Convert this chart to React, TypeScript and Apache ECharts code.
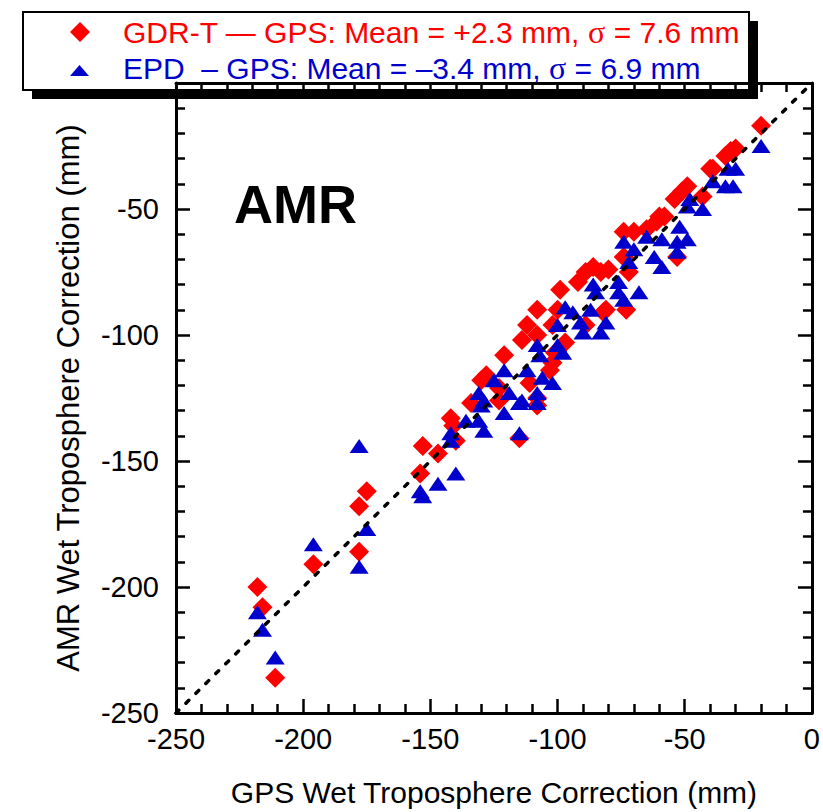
import React, { useEffect, useRef } from "react";
import * as echarts from "echarts";

const FONT = "'Liberation Sans', Arial, Helvetica, sans-serif";
const SERIF = "'Liberation Serif', 'DejaVu Serif', serif";
const RED = "#ff0000";
const BLUE = "#0000cc";

// axis range (mm)
const AXIS_MIN = -250;
const AXIS_MAX = 0;
const AXIS_STEP = 50;

const xAxisTitle = "GPS Wet Troposphere Correction (mm)";
const yAxisTitle = "AMR Wet Troposphere Correction (mm)";
const panelLabel = "AMR";

const legendGdr = { name: "GDR-T — GPS: Mean = +2.3 mm, ", sigma: "σ", rest: " = 7.6 mm" };
const legendEpd = { name: "EPD  – GPS: Mean = –3.4 mm, ", sigma: "σ", rest: " = 6.9 mm" };

// GDR-T vs GPS (red diamonds): [GPS, AMR]
const gdrT: [number, number][] = [
  [-218, -200], [-216, -208], [-211, -236], [-196, -191], [-178, -168], [-175, -162],
  [-178, -186], [-153, -144], [-154, -155], [-147, -147], [-142, -133], [-141, -136],
  [-140, -142], [-134, -127], [-123, -126], [-115, -141], [-108, -128], [-111, -119],
  [-20, -17], [-30, -26], [-32, -27], [-34, -29], [-39, -34], [-40, -34], [-49, -41],
  [-51, -43], [-54, -46], [-43, -45], [-60, -53], [-61, -55], [-58, -53], [-74, -59],
  [-70, -59], [-65, -58], [-74, -69], [-72, -75], [-53, -69], [-73, -90], [-86, -73],
  [-92, -79], [-89, -75], [-83, -75], [-80, -74], [-99, -82], [-100, -90], [-108, -90],
  [-112, -96], [-114, -102], [-108, -100], [-102, -96], [-97, -103], [-82, -91],
  [-81, -90], [-89, -96], [-121, -108], [-102, -111], [-103, -114], [-128, -116],
  [-123, -121], [-108, -125], [-130, -118], [-101, -107],
];

// EPD vs GPS (blue triangles): [GPS, AMR]
const epd: [number, number][] = [
  [-218, -210], [-216, -217], [-211, -228], [-196, -183], [-178, -144], [-175, -177],
  [-178, -192], [-154, -162], [-153, -164], [-147, -159], [-140, -155], [-142, -139],
  [-142, -142], [-136, -134], [-131, -134], [-130, -128], [-129, -138], [-129, -126],
  [-121, -131], [-115, -127], [-115, -139], [-108, -127],
  [-20, -25], [-30, -34], [-33, -34], [-31, -41], [-34, -41], [-39, -39], [-48, -46],
  [-49, -49], [-43, -50], [-52, -57], [-49, -62], [-53, -63], [-53, -67], [-59, -62],
  [-59, -73], [-62, -69], [-65, -61], [-74, -63], [-70, -66], [-72, -71], [-76, -79],
  [-76, -83], [-74, -86], [-68, -83], [-86, -80], [-85, -83], [-87, -90], [-97, -89],
  [-94, -91], [-91, -95], [-81, -95], [-83, -99], [-90, -99], [-100, -96], [-100, -104],
  [-108, -104], [-107, -108], [-98, -107], [-112, -114], [-106, -117], [-102, -119],
  [-121, -114], [-125, -118], [-119, -123], [-131, -123], [-108, -123], [-114, -126],
];

// 1:1 reference line
const identityLine: [number, number][] = [[-250, -250], [0, 0]];

const axisCommon = {
  type: "value" as const,
  min: AXIS_MIN,
  max: AXIS_MAX,
  interval: AXIS_STEP,
  splitLine: { show: false },
  axisLine: { show: true, onZero: false, lineStyle: { color: "#000", width: 3 } },
  axisTick: { show: true, inside: true, length: 14, lineStyle: { color: "#000", width: 2.5 } },
  minorTick: { show: true, splitNumber: 5, length: 9, lineStyle: { color: "#000", width: 2.5 } },
};

const labelStyle = { color: "#000", fontFamily: FONT, fontSize: 29 };

export default function App() {
  const ref = useRef<HTMLDivElement>(null);
  useEffect(() => {
    document.body.style.margin = "0";
    const chart = echarts.init(ref.current!, null, { renderer: "svg" });
    const richLegend = (color: string) => ({
      a: { fill: color, fontFamily: FONT, fontSize: 30 },
      s: { fill: color, fontFamily: SERIF, fontSize: 32 },
    });
    chart.setOption({
      animation: false,
      backgroundColor: "#fff",
      grid: { left: 176, right: 11, top: 83, bottom: 97, containLabel: false },
      xAxis: [
        {
          ...axisCommon,
          position: "bottom",
          name: xAxisTitle,
          nameLocation: "middle",
          nameGap: 64,
          nameTextStyle: { color: "#000", fontFamily: FONT, fontSize: 30 },
          axisLabel: { ...labelStyle, margin: 11 },
        },
        { ...axisCommon, position: "top", axisLabel: { show: false } },
      ],
      yAxis: [
        {
          ...axisCommon,
          position: "left",
          name: yAxisTitle,
          nameLocation: "middle",
          nameGap: 92,
          nameRotate: 90,
          nameTextStyle: { color: "#000", fontFamily: FONT, fontSize: 31 },
          axisLabel: { ...labelStyle, margin: 17, showMaxLabel: false },
        },
        { ...axisCommon, position: "right", axisLabel: { show: false } },
      ],
      series: [
        {
          name: "GDR-T - GPS",
          type: "scatter",
          xAxisIndex: 0,
          yAxisIndex: 0,
          data: gdrT,
          symbol: "diamond",
          symbolSize: [20, 20],
          itemStyle: { color: RED, opacity: 1 },
          z: 2,
        },
        {
          name: "EPD - GPS",
          type: "scatter",
          xAxisIndex: 0,
          yAxisIndex: 0,
          data: epd,
          symbol: "triangle",
          symbolSize: [19, 14],
          itemStyle: { color: BLUE, opacity: 1 },
          z: 3,
        },
        {
          name: "1:1",
          type: "line",
          xAxisIndex: 0,
          yAxisIndex: 0,
          data: identityLine,
          symbol: "none",
          lineStyle: { color: "#000", width: 3.5, type: [4, 10], cap: "round" },
          z: 4,
        },
      ],
      graphic: [
        {
          type: "group",
          z: 100,
          children: [
            { type: "rect", shape: { x: 32, y: 21, width: 726, height: 78 }, style: { fill: "#000" } },
            {
              type: "rect",
              shape: { x: 23, y: 12, width: 726, height: 78 },
              style: { fill: "#fff", stroke: "#000", lineWidth: 2 },
            },
            {
              type: "polygon",
              shape: { points: [[80, 22], [90, 32], [80, 42], [70, 32]] },
              style: { fill: RED },
            },
            {
              type: "polygon",
              shape: { points: [[70, 76], [89, 76], [79.5, 65]] },
              style: { fill: BLUE },
            },
            {
              type: "text",
              x: 123,
              y: 32,
              style: {
                text: `{a|${legendGdr.name}}{s|${legendGdr.sigma}}{a|${legendGdr.rest}}`,
                rich: richLegend(RED),
                fill: RED,
                fontFamily: FONT,
                fontSize: 30,
                verticalAlign: "middle",
              },
            },
            {
              type: "text",
              x: 123,
              y: 68,
              style: {
                text: `{a|${legendEpd.name}}{s|${legendEpd.sigma}}{a|${legendEpd.rest}}`,
                rich: richLegend(BLUE),
                fill: BLUE,
                fontFamily: FONT,
                fontSize: 30,
                verticalAlign: "middle",
              },
            },
          ],
        },
        {
          type: "text",
          x: 234,
          y: 204,
          z: 50,
          style: {
            text: panelLabel,
            fill: "#000",
            fontFamily: FONT,
            fontWeight: "bold",
            fontSize: 54,
            verticalAlign: "middle",
          },
        },
      ],
    });
    return () => chart.dispose();
  }, []);
  return <div ref={ref} style={{ width: 823, height: 812 }} />;
}
